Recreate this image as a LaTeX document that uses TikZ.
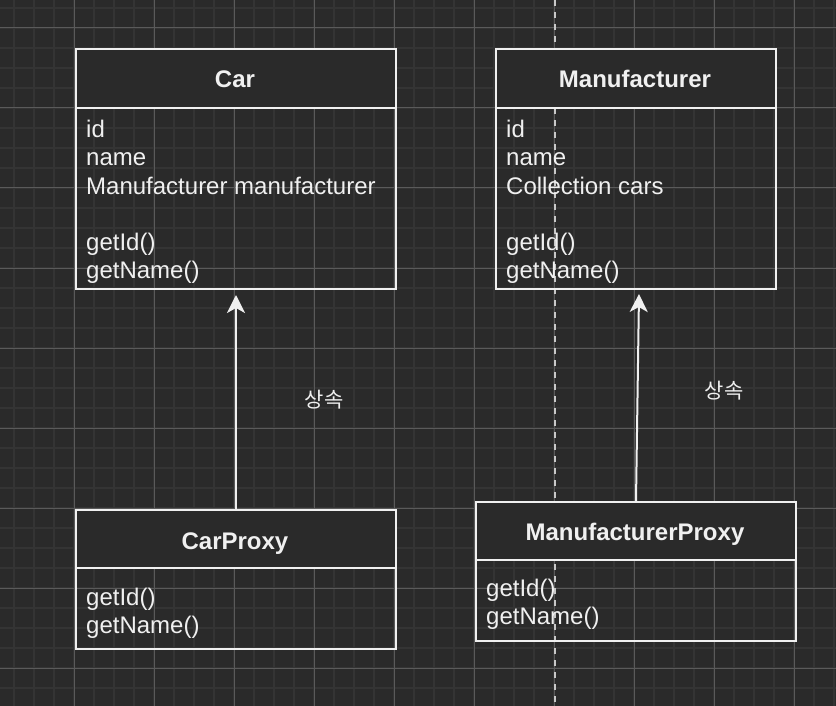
\documentclass[tikz,border=0pt]{standalone}
\usepackage{fontspec}
\setmainfont{Liberation Sans}
\newfontfamily\krfont{Noto Sans CJK KR}
\usetikzlibrary{arrows.meta}
\definecolor{bg}{HTML}{2A2A2A}
\definecolor{gridminor}{HTML}{343434}
\definecolor{gridmajor}{HTML}{5A5A5A}
\definecolor{fg}{HTML}{F0F0F0}
\definecolor{dashc}{HTML}{C8C8C8}
\begin{document}
\begin{tikzpicture}[x=1pt,y=-1pt,
  minorline/.style={draw=gridminor, line width=2pt},
  majorline/.style={draw=gridmajor, line width=1pt},
  classbox/.style={draw=fg, line width=2pt, inner sep=0pt, anchor=north west, minimum width=320pt},
  classhead/.style={classbox, fill=bg},
  classtitle/.style={font=\fontsize{24}{28}\selectfont\bfseries, text=fg, anchor=base, inner sep=0pt},
  classmember/.style={font=\fontsize{24}{28}\selectfont, text=fg, anchor=base west, inner sep=0pt},
  korlabel/.style={font=\krfont\fontsize{21}{24}\selectfont, text=fg, inner sep=0pt},
  inherit/.style={draw=fg, line width=2pt, -{Stealth[length=18pt,width=18pt,inset=5pt]}}]
\useasboundingbox (0,0) rectangle (836,706);
\fill[bg] (0,0) rectangle (836,706);
% grid
\foreach \x in {14,34,...,834} \draw[minorline] (\x,0) -- (\x,706);
\foreach \y in {8,28,...,706} \draw[minorline] (0,\y) -- (836,\y);
\foreach \x in {74,154,...,834} \draw[majorline] (\x,0) -- (\x,706);
\foreach \y in {28,108,...,706} \draw[majorline] (0,\y) -- (836,\y);
% dashed separator
\coordinate (dtop) at (555,0);
\coordinate (dbot) at (555,706);
\draw[dashc, line width=2pt, dash pattern=on 6pt off 6pt] (dtop) -- (dbot);
% Car
\node[classbox, minimum height=240pt] (car) at (75,48) {};
\node[classhead, minimum height=59pt] (carhead) at (75,48) {};
\node[classtitle] (cartitle) at (235,88) {Car};
\node[classmember] (car1) at (86,138) {id};
\node[classmember] (car2) at (86,166) {name};
\node[classmember] (car3) at (86,194) {Manufacturer manufacturer};
\node[classmember] (car4) at (86,250) {getId()};
\node[classmember] (car5) at (86,278) {getName()};
% Manufacturer
\node[classbox, minimum width=280pt, minimum height=240pt] (manu) at (495,48) {};
\node[classhead, minimum width=280pt, minimum height=59pt] (manuhead) at (495,48) {};
\node[classtitle] (manutitle) at (635,88) {Manufacturer};
\node[classmember] (manu1) at (506,138) {id};
\node[classmember] (manu2) at (506,166) {name};
\node[classmember] (manu3) at (506,194) {Collection cars};
\node[classmember] (manu4) at (506,250) {getId()};
\node[classmember] (manu5) at (506,278) {getName()};
% CarProxy
\node[classbox, minimum height=139pt] (carproxy) at (75,509) {};
\node[classhead, minimum height=58pt] (carproxyhead) at (75,509) {};
\node[classtitle] (carproxytitle) at (235,549) {CarProxy};
\node[classmember] (cp1) at (86,605) {getId()};
\node[classmember] (cp2) at (86,633) {getName()};
% ManufacturerProxy
\node[classbox, minimum height=139pt] (manuproxy) at (475,501) {};
\node[classhead, minimum height=58pt] (manuproxyhead) at (475,501) {};
\node[classtitle] (manuproxytitle) at (635,540) {ManufacturerProxy};
\node[classmember] (mp1) at (486,596) {getId()};
\node[classmember] (mp2) at (486,624) {getName()};
% inheritance arrows
\draw[inherit] (carproxy.north) -- ([yshift=-5pt]car.south);
\draw[inherit] (manuproxy.north) -- ([xshift=3pt,yshift=-4pt]manu.south);
\node[korlabel] (lbl1) at (324,400) {상속};
\node[korlabel] (lbl2) at (724,391) {상속};
\end{tikzpicture}
\end{document}
